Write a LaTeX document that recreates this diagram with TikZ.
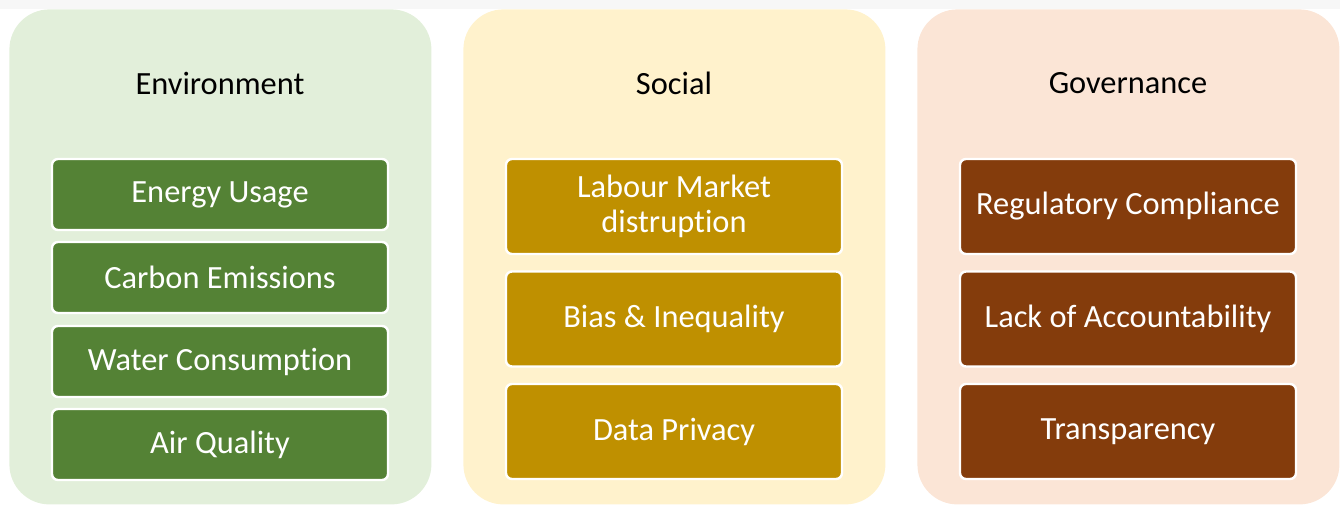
\documentclass[tikz,border=0pt]{standalone}
\usepackage{fontspec}
\setmainfont{Carlito}[Ligatures = NoCommon]

\definecolor{envlight}{HTML}{E2EFDA}
\definecolor{envdark}{HTML}{548235}
\definecolor{soclight}{HTML}{FFF2CC}
\definecolor{socdark}{HTML}{BF9000}
\definecolor{govlight}{HTML}{FBE5D6}
\definecolor{govdark}{HTML}{843C0C}

\tikzset{
    panel/.style = {anchor = north west, rounded corners = 20pt, inner sep = 0pt,
        minimum width = 211pt, minimum height = 247.5pt},
    heading/.style = {font = \fontsize{16.2}{19}\selectfont, text = black},
    item/.style = {draw = white, line width = 1.2pt, rounded corners = 3pt,
        minimum width = 168pt, text = white, align = center,
        font = \fontsize{16.2}{17.5}\selectfont}
}

\begin{document}
\begin{tikzpicture}[x = 0.5pt, y = -0.5pt]
        \useasboundingbox (0, 0) rectangle (1340, 504);
        \fill[gray!6] (0, 0) rectangle (1340, 9);

        % the three columns
        \node[panel, fill = envlight] (envpanel) at (9, 9) {};
        \node[panel, fill = soclight] (socpanel) at (463, 9) {};
        \node[panel, fill = govlight] (govpanel) at (917, 9) {};

        \node[heading] (envtitle) at (220, 83) {Environment};
        \node[heading] (soctitle) at (674, 83) {Social};
        \node[heading] (govtitle) at (1128, 83) {Governance};

        % environment
        \node[item, fill = envdark, minimum height = 35.5pt] (energy) at (220, 194.5) {Energy Usage};
        \node[item, fill = envdark, minimum height = 35.5pt] (carbon) at (220, 277.5) {Carbon Emissions};
        \node[item, fill = envdark, minimum height = 35.5pt] (water) at (220, 361.5) {Water Consumption};
        \node[item, fill = envdark, minimum height = 35.5pt] (air) at (220, 444.5) {Air Quality};

        % social
        \node[item, fill = socdark, minimum height = 47.5pt] (labour) at (674, 206.5) {Labour Market\\distruption};
        \node[item, fill = socdark, minimum height = 47.5pt] (bias) at (674, 319) {Bias \& Inequality};
        \node[item, fill = socdark, minimum height = 47.5pt] (privacy) at (674, 431.5) {Data Privacy};

        % governance
        \node[item, fill = govdark, minimum height = 47.5pt] (regulatory) at (1128, 206.5) {Regulatory Compliance};
        \node[item, fill = govdark, minimum height = 47.5pt] (accountability) at (1128, 319) {Lack of Accountability};
        \node[item, fill = govdark, minimum height = 47.5pt] (transparency) at (1128, 431.5) {Transparency};

    \end{tikzpicture}
\end{document}
